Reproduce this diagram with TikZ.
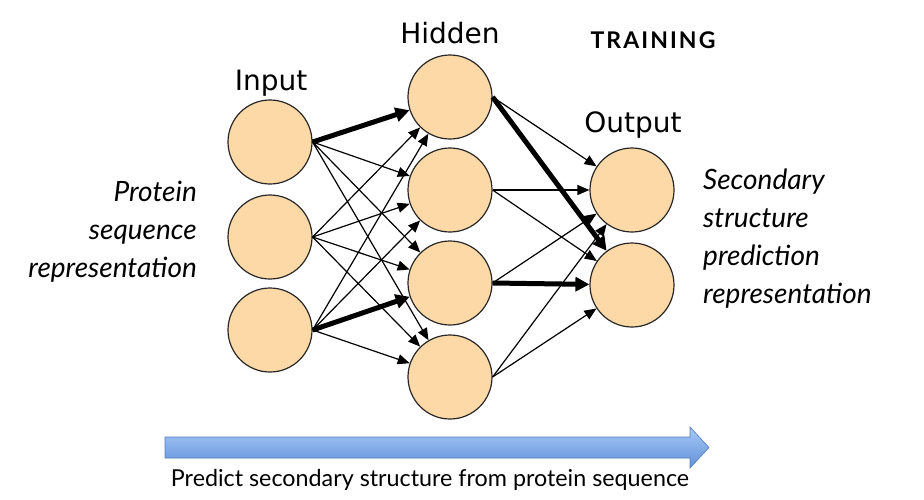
\documentclass[tikz,border=0pt]{standalone}
\usepackage{fontspec}
\setsansfont{DejaVu Sans}
\newfontfamily\gillfont{Lato}
\usetikzlibrary{arrows.meta}
\definecolor{cellcol}{RGB}{253,217,168}
\definecolor{barlight}{RGB}{165,200,247}
\definecolor{bardark}{RGB}{98,146,218}
\tikzset{
  neuron/.style={circle, draw=black!85, line width=1.2pt, fill=cellcol,
                 minimum size=84pt, inner sep=0pt},
  layerlabel/.style={font=\sffamily\fontsize{28}{28}\selectfont},
  note/.style={font=\gillfont\itshape\fontsize{28}{38}\selectfont},
  link/.style={-{Triangle[length=12pt, width=10pt]}, line width=1.2pt},
  strong/.style={-{Triangle[length=14pt, width=14pt]}, line width=5pt},
}

\begin{document}
\begin{tikzpicture}[x=1pt, y=-1pt]
  \useasboundingbox (0,0) rectangle (924,499);

  % --- layers ---
  \foreach \i/\y in {1/142, 2/237, 3/330}
    \node[neuron] (in\i) at (270,\y) {};
  \foreach \h/\y in {1/97, 2/190, 3/283, 4/377}
    \node[neuron] (hid\h) at (450,\y) {};
  \foreach \o/\y in {1/190, 2/285}
    \node[neuron] (out\o) at (632,\y) {};

  % --- labels ---
  \node[layerlabel, anchor=base] at (271,90) {Input};
  \node[layerlabel, anchor=base] at (450,43) {Hidden};
  \node[layerlabel, anchor=base] at (633,132) {Output};
  \node[font=\gillfont\bfseries\fontsize{23}{23}\selectfont\addfontfeature{LetterSpace=9},
        anchor=base] at (653,48) {TRAINING};

  % --- connections ---
  \foreach \a/\b in {1/2, 1/3, 1/4, 2/1, 2/2, 2/3, 2/4, 3/1, 3/2, 3/4}
    \draw[link] (in\a.east) -- (hid\b);
  \draw[strong] (in1.east) -- (hid1);
  \draw[strong] (in3.east) -- (hid3);

  \foreach \a/\b in {1/1, 2/1, 2/2, 3/1, 4/1, 4/2}
    \draw[link] (hid\a.east) -- (out\b);
  \draw[strong] (hid1.east) -- (out2);
  \draw[strong] (hid3.east) -- (out2);

  % --- side texts ---
  \node[note, align=right, anchor=base east, inner sep=0pt] (lefttxt) at (197,277)
    {Protein\\sequence\\representation};
  \node[note, align=left, anchor=base west, inner sep=0pt] (righttxt) at (703,303)
    {Secondary\\structure\\prediction\\representation};

  % --- bottom arrow ---
  \shade[top color=barlight, bottom color=bardark, draw=bardark!85!black, line width=0.6pt]
    (165,437) -- (690,437) -- (690,427) -- (709,447.5) -- (690,468) -- (690,458)
    -- (165,458) -- cycle;
  \node[font=\gillfont\fontsize{23.3}{23}\selectfont, anchor=base] (caption) at (430,486)
    {Predict secondary structure from protein sequence};
\end{tikzpicture}
\end{document}
